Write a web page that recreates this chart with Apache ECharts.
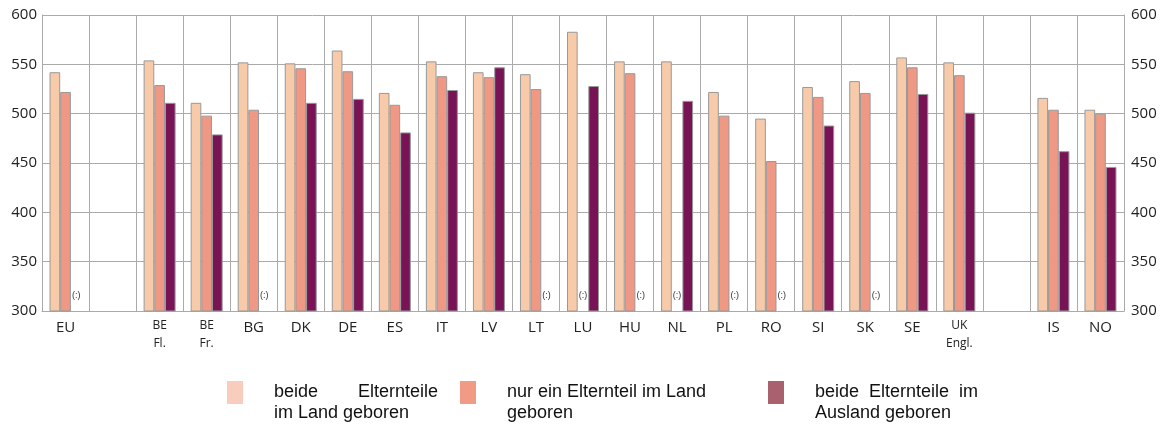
<!DOCTYPE html>
<html>
<head>
<meta charset="utf-8">
<script src="https://cdn.jsdelivr.net/npm/echarts@6/dist/echarts.min.js"></script>
<style>
  html, body { margin: 0; padding: 0; background: #fff; }
  #chart { width: 1165px; height: 429px; }
</style>
</head>
<body>
<div id="chart"></div>
<script>
// Länder (leere Einträge = Lücken im Diagramm)
const countries = ['EU', '', 'BE\nFl.', 'BE\nFr.', 'BG', 'DK', 'DE', 'ES', 'IT', 'LV', 'LT', 'LU', 'HU', 'NL', 'PL', 'RO', 'SI', 'SK', 'SE', 'UK\nEngl.', '', 'IS', 'NO'];
// null = keine Daten "(:)", '-' = Lücke
const beideImLand = [542, '-', 554, 511, 552, 551, 564, 521, 553, 542, 540, 583, 553, 553, 522, 495, 527, 533, 557, 552, '-', 516, 504];
const einElternteil = [522, '-', 529, 498, 504, 546, 543, 509, 538, 537, 525, null, 541, null, 498, 452, 517, 521, 547, 539, '-', 504, 500];
const beideAusland = [null, '-', 511, 479, null, 511, 515, 481, 524, 547, null, 528, null, 513, null, null, 488, null, 520, 501, '-', 462, 446];
const yTicks = [300, 350, 400, 450, 500, 550, 600];

const seriesNames = ['beide Elternteile im Land geboren', 'nur ein Elternteil im Land geboren', 'beide Elternteile im Ausland geboren'];
const barColors = ['#f7caa9', '#ef9883', '#781456'];
const legendColors = ['#f9cdbd', '#f19a85', '#a9606f'];
const legendTexts = [
  'beide        Elternteile\nim Land geboren',
  'nur ein Elternteil im Land\ngeboren',
  'beide  Elternteile  im\nAusland geboren'
];
const legendLeft = [227, 460, 768];

// fehlende Werte als "(:)" am Boden der Achse
function toData(arr) {
  return arr.map(v => {
    if (v === null) {
      return {
        value: yTicks[0],
        itemStyle: { color: 'rgba(0,0,0,0)', borderWidth: 0 },
        label: { show: true, formatter: '(:)', position: 'top', distance: 11, fontSize: 9, color: '#333' }
      };
    }
    return v;
  });
}

const myChart = echarts.init(document.getElementById('chart'));

const axisFont = "'Open Sans', 'Noto Sans', sans-serif";

myChart.setOption({
  animation: false,
  grid: { left: 42, right: 41, top: 15, height: 296 },
  legend: legendLeft.map((l, i) => ({
    left: l,
    top: 361,
    padding: 0,
    icon: 'rect',
    data: [{ name: seriesNames[i], itemStyle: { color: legendColors[i], borderWidth: 0 } }],
    itemWidth: 16,
    itemHeight: 23,
    selectedMode: false,
    // leere erste Zeile, damit das Kästchen auf Höhe der ersten Textzeile sitzt
    formatter: () => '\n' + legendTexts[i],
    textStyle: {
      fontFamily: "'Liberation Sans', Arial, sans-serif",
      fontSize: 18,
      lineHeight: 21,
      color: '#111',
      padding: [0, 0, 0, 26]
    }
  })),
  xAxis: {
    type: 'category',
    data: countries,
    axisLine: { lineStyle: { color: '#aaa' } },
    axisTick: { show: false },
    splitLine: { show: true, lineStyle: { color: '#aaa' } },
    axisLabel: {
      interval: 0,
      margin: 6,
      color: '#222',
      fontFamily: axisFont,
      formatter: v => v.indexOf('\n') >= 0
        ? v.split('\n').map(s => '{s|' + s + '}').join('\n')
        : '{n|' + v + '}',
      rich: {
        n: { fontSize: 15, lineHeight: 22, fontFamily: axisFont, color: '#222' },
        s: { fontSize: 12, lineHeight: 18, fontFamily: axisFont, color: '#222' }
      }
    }
  },
  yAxis: [
    {
      type: 'value', min: 300, max: 600, interval: 50,
      axisLine: { show: true, lineStyle: { color: '#aaa' } },
      axisTick: { show: false },
      splitLine: { lineStyle: { color: '#aaa' } },
      axisLabel: { margin: 5, fontSize: 15, color: '#222', fontFamily: axisFont }
    },
    {
      type: 'value', min: 300, max: 600, interval: 50, position: 'right',
      axisLine: { show: true, lineStyle: { color: '#aaa' } },
      axisTick: { show: false },
      splitLine: { show: false },
      axisLabel: { margin: 7, fontSize: 15, color: '#222', fontFamily: axisFont }
    }
  ],
  series: [beideImLand, einElternteil, beideAusland].map((arr, i) => ({
    name: seriesNames[i],
    type: 'bar',
    data: toData(arr),
    barGap: 0,
    barCategoryGap: '32%',
    itemStyle: { color: barColors[i], borderColor: '#999', borderWidth: 1 }
  }))
});
</script>
</body>
</html>
